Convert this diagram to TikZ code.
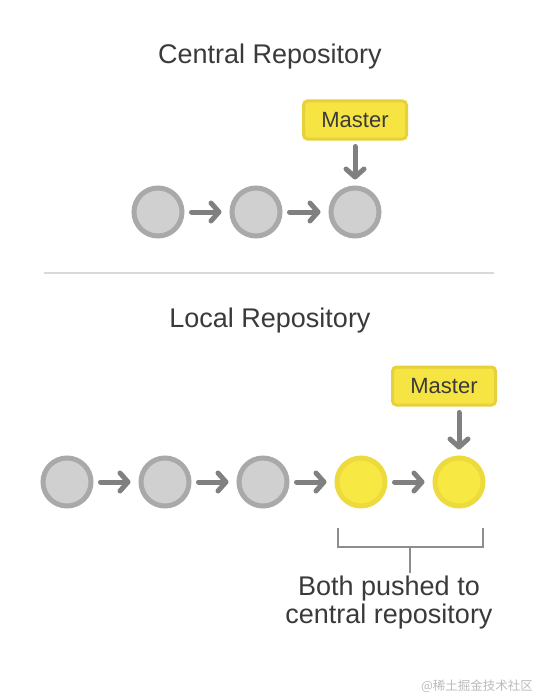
\documentclass[tikz,border=0pt]{standalone}
\usepackage{fontspec}
\setmainfont{Liberation Sans}
\newfontfamily\cjk{Noto Sans CJK SC}
\usepackage{tikz}
\usetikzlibrary{calc,arrows.meta}
\definecolor{commitgray}{HTML}{D0D0D0}
\definecolor{commitedge}{HTML}{A9A9A9}
\definecolor{pushfill}{HTML}{F8E843}
\definecolor{pushedge}{HTML}{EDDA3C}
\definecolor{tagfill}{HTML}{F6E443}
\definecolor{tagedge}{HTML}{E8D03A}
\definecolor{arrowgray}{HTML}{808080}
\definecolor{textgray}{HTML}{3A3A3A}
\tikzset{>=latex}

\begin{document}
\begin{tikzpicture}[x=1pt,y=-1pt]
      \tikzstyle{commit}=[circle,draw=commitedge,fill=commitgray,line width=5pt,minimum size=48pt,inner sep=0pt]
      \tikzstyle{pushed}=[commit,draw=pushedge,fill=pushfill]
      \tikzstyle{tag}=[rectangle,rounded corners=4pt,draw=tagedge,fill=tagfill,line width=3pt,minimum width=103pt,minimum height=38pt,inner sep=0pt,text=textgray,font=\fontsize{22}{26}\selectfont]
      \tikzstyle{link}=[draw=arrowgray,line width=5pt,line cap=round,line join=round,-{Straight Barb[length=8pt,width=18pt,line cap=round,line join=round]},shorten <=7pt,shorten >=8pt]
      \tikzstyle{title}=[text=textgray,font=\fontsize{27}{28}\selectfont]
      \useasboundingbox (0,0) rectangle (544,698);
      \fill[white] (0,0) rectangle (544,698);
      %%% Central
      \node (central) at (270,57) [title] {Central Repository};
      \node (c1) at (158,212) [commit] {};
      \node (c2) at (256,212) [commit] {};
      \node (c3) at (355,212) [commit] {};
      \draw[link] (c1) -- (c2);
      \draw[link] (c2) -- (c3);
      \node (m1) at (355,120) [tag] {Master};
      \draw[link,shorten <=6pt,shorten >=6pt] (m1.south) -- (c3.north);
      %%% separator
      \draw[draw=commitgray!80,line width=2pt] (44,273) -- (494,273);
      %%% Local
      \node (local) at (270,321) [title] {Local Repository};
      \node (l1) at (67,482) [commit] {};
      \node (l2) at (165,482) [commit] {};
      \node (l3) at (263,482) [commit] {};
      \node (l4) at (361,482) [pushed] {};
      \node (l5) at (459,482) [pushed] {};
      \foreach \a/\b in {l1/l2,l2/l3,l3/l4,l4/l5}
        \draw[link] (\a) -- (\b);
      \node (m2) at (444,386) [tag] {Master};
      \draw[link,shorten <=6pt,shorten >=6pt] (m2.south -| l5) -- (l5.north);
      %%% bracket
      \node (push) at (389,603) [title,align=center] {Both pushed to\\central repository};
      \draw[draw=arrowgray!90,line width=2pt] (338,528) -- (338,547) -- (483,547) -- (483,528);
      \coordinate (tick) at (410,547);
      \draw[draw=arrowgray!90,line width=2pt] (tick) -- (tick |- push.north);
      %%% watermark
      \node (mark) at (477,686) [text=commitgray!90!black,font=\cjk\fontsize{12.5}{14}\selectfont] {@稀土掘金技术社区};
\end{tikzpicture}
\end{document}
